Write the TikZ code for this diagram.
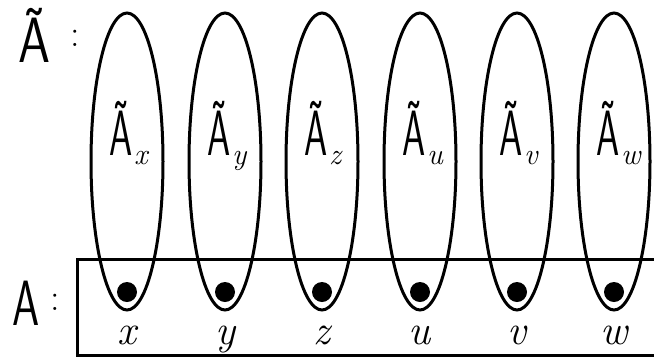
\documentclass[tikz,border=0pt]{standalone}
\usepackage{fontspec}
\usepackage{graphicx}
\usetikzlibrary{shapes.geometric}
\newcommand\tildeA[1]{\scalebox{#1}[1]{\sffamily\fontsize{64}{64}\selectfont Ã}}
\newcommand\plainA[1]{\scalebox{#1}[1]{\sffamily\fontsize{64}{64}\selectfont A}}
\tikzset{
  ell/.style={draw, line width=3pt, ellipse, minimum width=72pt, minimum height=297pt, inner sep=0pt},
  dotnode/.style={circle, fill=black, minimum size=20pt, inner sep=0pt},
  biglab/.style={inner sep=0pt},
  sublab/.style={inner sep=0pt, font=\fontsize{30}{30}\selectfont\itshape},
  botlab/.style={inner sep=0pt, font=\fontsize{42}{42}\selectfont\itshape},
  colonlab/.style={inner sep=0pt, font=\fontsize{38}{38}\selectfont},
  frame/.style={draw, line width=3pt}
}
\begin{document}
\begin{tikzpicture}[x=1pt, y=-1pt]
\useasboundingbox (0,0) rectangle (654,360);
\clip (0,0) rectangle (654,360);
% set A
\draw[frame] (77,259) rectangle (665,355);
\foreach \i/\cx/\s in {1/127/x, 2/225/y, 3/322/z, 4/420/u, 5/517/v, 6/614/w}{
  \node[ell] (e\i) at (\cx,161.5) {};
  \node[dotnode] (d\i) at (\cx,292) {};
  \node[biglab, anchor=base] (t\i) at (\cx-6,155) {\tildeA{0.58}};
  \node[sublab, anchor=base west] (s\i) at (\cx+7,164) {\s};
  \node[botlab, anchor=base] (b\i) at (\cx,344) {\s};
}
\node[biglab, anchor=base] (At) at (35,62) {\tildeA{0.8}};
\node[colonlab] (c1) at (75,38) {:};
\node[biglab, anchor=base] (A) at (26,325) {\plainA{0.68}};
\node[colonlab] (c2) at (55,302) {:};
\end{tikzpicture}
\end{document}
